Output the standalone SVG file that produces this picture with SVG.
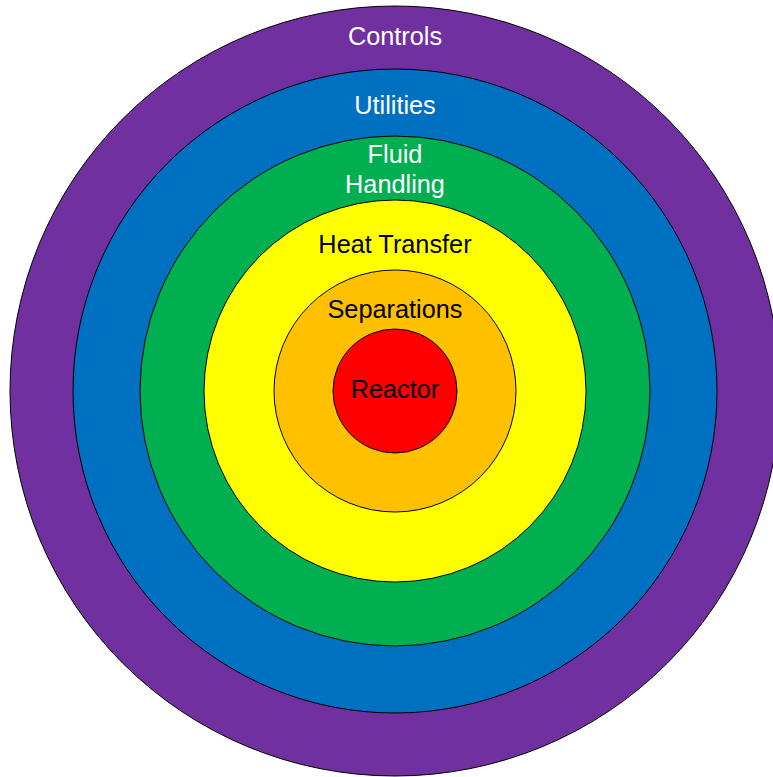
<svg xmlns="http://www.w3.org/2000/svg" width="773" height="777" viewBox="0 0 773 777">
<style>
circle { stroke: #000; stroke-width: 1; }
text { font-family: "Liberation Sans", Arial, sans-serif; font-size: 25.3px; text-anchor: middle; }
.w { fill: #fff; }
.b { fill: #000; }
</style>
<rect width="773" height="777" fill="#fff"/>
<g id="controls"><circle cx="395" cy="391" r="385" fill="#7030A0"/><text class="w" x="395" y="45">Controls</text></g>
<g id="utilities"><circle cx="395" cy="391" r="322" fill="#0070C0"/><text class="w" x="395" y="114">Utilities</text></g>
<g id="fluid-handling"><circle cx="395" cy="391" r="255" fill="#00B050"/><text class="w" x="395" y="163">Fluid</text><text class="w" x="395" y="193">Handling</text></g>
<g id="heat-transfer"><circle cx="395" cy="391" r="191" fill="#FFFF00"/><text class="b" x="395" y="253">Heat Transfer</text></g>
<g id="separations"><circle cx="395" cy="391" r="121" fill="#FFC000"/><text class="b" x="395" y="318">Separations</text></g>
<g id="reactor"><circle cx="395" cy="391" r="62" fill="#FF0000"/><text class="b" x="395" y="398">Reactor</text></g>
<g id="connectors"/>
</svg>
